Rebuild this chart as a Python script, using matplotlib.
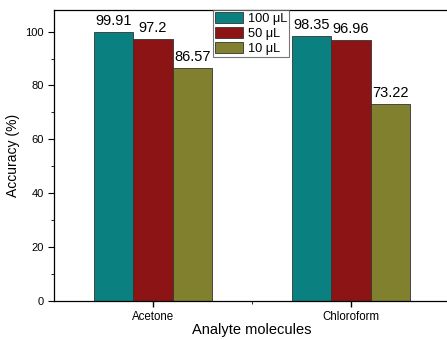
import numpy as np
import matplotlib
matplotlib.use("Agg")
import matplotlib.pyplot as plt

plt.rcParams['font.family'] = ['Liberation Sans', 'DejaVu Sans']

molecules = ["Acetone", "Chloroform"]
volumes = ["100 \u03bcL", "50 \u03bcL", "10 \u03bcL"]
acc_100 = [99.91, 98.35]
acc_50 = [97.2, 96.96]
acc_10 = [86.57, 73.22]
labels_100 = ["99.91", "98.35"]
labels_50 = ["97.2", "96.96"]
labels_10 = ["86.57", "73.22"]

colors = ["#0a8080", "#8c1414", "#80802e"]
w = 0.2

fig = plt.figure(figsize=(4.47, 3.40), dpi=100)
ax = fig.add_axes([54 / 447, 1 - 301 / 340, 396 / 447, 291 / 340])

x = np.arange(len(molecules))
series = [(acc_100, labels_100), (acc_50, labels_50), (acc_10, labels_10)]
for i, (vals, labs) in enumerate(series):
    pos = x + (i - 1) * w
    bars = ax.bar(pos, vals, width=w, color=colors[i], edgecolor="#333333",
                  linewidth=0.6, label=volumes[i])
    for b, t in zip(bars, labs):
        ax.text(b.get_x() + b.get_width() / 2, b.get_height() + 1.5, t,
                ha="center", va="bottom", fontsize=10.5)

ax.set_xlim(-0.5, 1.5)
ax.set_ylim(0, 108)
ax.set_xticks(x)
ax.set_xticklabels(molecules, fontsize=8.3)
ax.set_xticks([0.5], minor=True)
ax.set_yticks(np.arange(0, 101, 20))
ax.set_yticks(np.arange(10, 101, 20), minor=True)
ax.tick_params(axis="y", labelsize=8, length=4, width=0.8)
ax.tick_params(axis="x", length=4, width=1, pad=3)
ax.tick_params(which="minor", length=2.5)
ax.set_xlabel("Analyte molecules", fontsize=10.5, labelpad=0.5)
ax.set_ylabel("Accuracy (%)", fontsize=10, labelpad=4)
for s in ax.spines.values():
    s.set_linewidth(0.9)

leg = ax.legend(loc="upper left", bbox_to_anchor=(0.402, 1.0), fontsize=9.2,
                frameon=True, fancybox=False, edgecolor="#555555",
                handlelength=2.2, handleheight=0.9, borderpad=0.15,
                labelspacing=0.2, handletextpad=0.35, borderaxespad=0)
leg.get_frame().set_linewidth(0.8)

fig.savefig("out.png", dpi=100)
